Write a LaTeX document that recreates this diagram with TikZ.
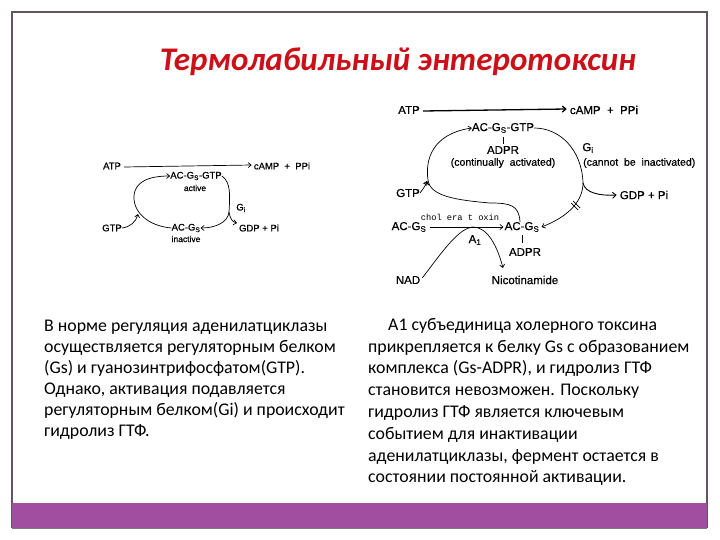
\documentclass[tikz,border=0pt]{standalone}
\usepackage{fontspec}
\setmainfont{Carlito}
\newfontfamily\diafont[FakeBold=0.6]{Liberation Sans}
\newfontfamily\monofont{Liberation Mono}
\usetikzlibrary{arrows.meta}
\definecolor{framegray}{HTML}{5F5563}
\definecolor{barpurple}{HTML}{A14DA0}
\definecolor{titlered}{HTML}{CC1018}
\begin{document}
\begin{tikzpicture}[x=1pt,y=-1pt,
  lbl/.style={inner sep=0pt,font=\diafont\fontsize{9.5}{10}\selectfont},
  rlbl/.style={inner sep=0pt,font=\diafont\fontsize{11.5}{12}\selectfont},
  body/.style={inner sep=0pt,anchor=north west,align=left},
  conn/.style={line width=0.7pt,-{Straight Barb[length=3pt,width=5pt]}},
  plain/.style={line width=0.7pt},
  bigconn/.style={line width=1.3pt,-{Straight Barb[length=3.5pt,width=6pt]}}]
\useasboundingbox (0,0) rectangle (720,540);
\fill[white] (0,0) rectangle (720,540);
% frame and bar
\draw[framegray,line width=1.4pt] (12,528) -- (12,12) -- (707,12) -- (707,528);
\fill[barpurple] (12,503) rectangle (707,528);
\draw[framegray!80,line width=0.8pt] (12,528) -- (707,528);
% title
\node[inner sep=0pt,anchor=base,text=titlered,font=\bfseries\itshape\fontsize{33}{35}\selectfont] (title) at (398,71) {Термолабильный энтеротоксин};

% ---------- left diagram ----------
\node[lbl] (latp) at (112,166) {ATP};
\node[lbl] (lcamp) at (282,166) {cAMP\ \ +\ \ PPi};
\node[lbl] (lgsgtp) at (196,176) {AC-G\textsubscript{S}-GTP};
\node[lbl,font=\diafont\fontsize{8.5}{9}\selectfont] (lactive) at (195,188) {active};
\node[lbl] (lgs) at (186,228) {AC-G\textsubscript{S}};
\node[lbl,font=\diafont\fontsize{8.5}{9}\selectfont] (linactive) at (186,239) {inactive};
\node[lbl] (lgtp) at (112,228) {GTP};
\node[lbl] (lgdp) at (259,228) {GDP\ +\ Pi};
\node[lbl] (lgi) at (241,208) {G\textsubscript{i}};
\coordinate (lsplit) at (229,212);
\draw[conn] (latp.east) ++(3,1) -- ([xshift=-2pt,yshift=1pt]lcamp.west);
\draw[conn] (lgs.west) .. controls (148,226) and (133,212) .. (134,196) .. controls (135,181) and (150,176) .. (lgsgtp.west);
\draw[conn] (lgtp.east) .. controls (130,227) and (136,222) .. (138,214);
\draw[plain] (lgsgtp.east) .. controls (231,182) and (230,196) .. (lsplit);
\draw[conn] (lsplit) .. controls (230,218) and (232,222) .. (237,223);
\draw[conn] (lsplit) .. controls (228,222) and (216,228) .. (lgs.east);

% ---------- right diagram ----------
\node[rlbl] (ratp) at (409,110) {ATP};
\node[rlbl] (rcamp) at (604,110) {cAMP\ \ +\ \ PPi};
\node[rlbl] (rgsgtp) at (503,128) {AC-G\textsubscript{S}-GTP};
\node[rlbl] (radpr1) at (503,150) {ADPR};
\node[rlbl,font=\diafont\fontsize{10.5}{11}\selectfont] (rcont) at (503,163) {(continually\ \ activated)};
\node[rlbl] (rgi) at (588,148) {G\textsubscript{i}};
\node[rlbl,font=\diafont\fontsize{10.5}{11}\selectfont,anchor=west] (rcannot) at (583,163) {(cannot\ \ be\ \ inactivated)};
\node[rlbl] (rgtp) at (408,193) {GTP};
\node[rlbl] (rgdp) at (644,195) {GDP\ +\ Pi};
\node[rlbl] (rgs1) at (409,227) {AC-G\textsubscript{S}};
\node[rlbl] (rgs2) at (522,227) {AC-G\textsubscript{S}};
\node[inner sep=0pt,font=\monofont\fontsize{8.7}{10}\selectfont] (rtox) at (460,217) {chol era t oxin};
\node[rlbl] (ra1) at (475,240) {A\textsubscript{1}};
\node[rlbl] (radpr2) at (525,252) {ADPR};
\node[rlbl] (rnad) at (408,280) {NAD};
\node[rlbl] (rnic) at (525,280) {Nicotinamide};
\coordinate (rsplit) at (583,183);
\coordinate (rjoin) at (427,181);
\coordinate (rhump) at (473,227);
\draw[bigconn] (ratp.east) ++(3,1) -- ([xshift=-3pt,yshift=1pt]rcamp.west);
\draw[plain] (rgsgtp.south) ++(0,4) -- ++(0,7);
\draw[plain] (rgs2.south) ++(0,3) -- ++(0,8);
\draw[conn] (rgs2.north) ++(-2,0) .. controls (519,205) and (510,203) .. (490,203) .. controls (455,200) and (430,196) .. (428,180) .. controls (425,160) and (432,134) .. (rgsgtp.west);
\draw[conn] (rgtp.east) .. controls (422,190) and (425,187) .. (rjoin);
\draw[conn] ([xshift=-1pt]rjoin) ++(0,5) -- ++(1,-5);
\draw[plain] (rgsgtp.east) .. controls (560,128) and (582,150) .. (rsplit);
\draw[bigconn,line width=0.9pt] (rsplit) .. controls (585,193) and (600,196) .. ([xshift=-3pt]rgdp.west);
\draw[conn] (rsplit) .. controls (583,200) and (570,216) .. ([xshift=2pt]rgs2.east);
\draw[plain] (571,203) -- (578,210);
\draw[plain] (573,201) -- (580,208);
\draw[conn] (rgs1.east) ++(3,0) -- ([xshift=-1pt]rgs2.west);
\draw[conn] (rnad.north east) ++(2,2) .. controls (440,255) and (458,228) .. (rhump) .. controls (487,227) and (497,245) .. (503,268);

% ---------- texts ----------
\node[body,font=\fontsize{17.8}{21}\selectfont] (ltext) at (44,320) {В норме регуляция аденилатциклазы\\осуществляется регуляторным белком\\(Gs) и гуанозинтрифосфатом(GTP).\\Однако, активация подавляется\\регуляторным белком(Gi) и происходит\\гидролиз ГТФ.};
\node[body,font=\fontsize{17.8}{21.8}\selectfont] (rtext) at (368,318) {\hspace*{20pt}А1 субъединица холерного токсина\\прикрепляется к белку Gs с образованием\\комплекса (Gs-ADPR), и гидролиз ГТФ\\становится невозможен. Поскольку\\гидролиз ГТФ является ключевым\\событием для инактивации\\аденилатциклазы, фермент остается в\\состоянии постоянной активации.};
\end{tikzpicture}
\end{document}
